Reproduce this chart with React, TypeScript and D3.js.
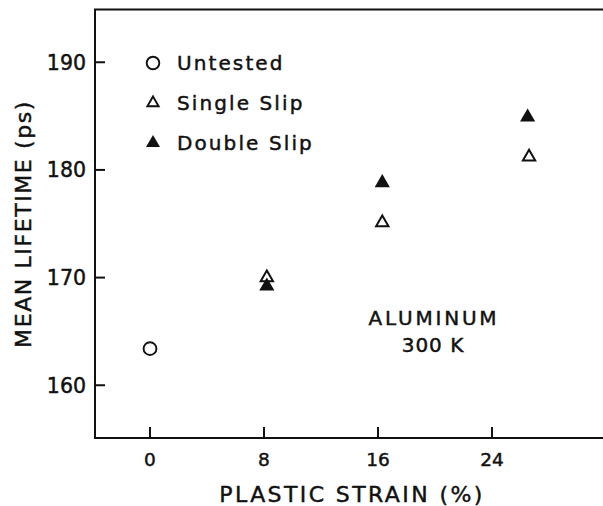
import React from 'react';
import * as d3 from 'd3';

const xTickValues = [0, 8, 16, 24];
const yTickValues = [160, 170, 180, 190];
const untestedStrain = [0];
const untestedLifetime = [163.4];
const singleStrain = [8.2, 16.3, 26.6];
const singleLifetime = [170.0, 175.1, 181.2];
const doubleStrain = [8.2, 16.3, 26.5];
const doubleLifetime = [169.2, 178.8, 184.9];
const legendLabels = ['Untested', 'Single Slip', 'Double Slip'];
const xLabel = 'PLASTIC STRAIN (%)';
const yLabel = 'MEAN LIFETIME (ps)';
const noteLines = ['ALUMINUM', '300 K'];

const FONT = '"DejaVu Sans", sans-serif';
const INK = '#111';

export default function App() {
  const W = 603;
  const H = 506;
  const x = d3.scaleLinear().domain([-3.86, 34]).range([95, 634.5]);
  const y = d3.scaleLinear().domain([155.1, 194.9]).range([438, 9.5]);
  const [x0, x1] = x.range();
  const [yb, yt] = y.range();

  const triFilled = d3.symbol().type(d3.symbolTriangle).size(100)()!;
  const triOpen = d3.symbol().type(d3.symbolTriangle).size(66)()!;
  const triFilledLeg = d3.symbol().type(d3.symbolTriangle).size(85)()!;
  const triOpenLeg = d3.symbol().type(d3.symbolTriangle).size(55)()!;

  const legendY = [63, 103, 143];
  const textStroke = { stroke: INK, strokeWidth: 0.45 };

  return (
    <svg
      width={W}
      height={H}
      style={{ position: 'absolute', left: 0, top: 0, background: '#fff' }}
      fontFamily={FONT}
    >
      <rect x={0} y={0} width={W} height={H} fill="#fff" />
      {/* frame */}
      <path
        d={`M${x1},${yt} H${x0} V${yb} H${x1}`}
        fill="none"
        stroke={INK}
        strokeWidth={2}
      />
      {/* y ticks */}
      {yTickValues.map((v) => (
        <g key={'yt' + v}>
          <line x1={x0} x2={x0 + 10} y1={y(v)} y2={y(v)} stroke={INK} strokeWidth={2} />
          <text x={86} y={y(v) + 7.5} textAnchor="end" fontSize={20.5} fill={INK} {...textStroke}>
            {v}
          </text>
        </g>
      ))}
      {/* x ticks */}
      {xTickValues.map((v) => (
        <g key={'xt' + v}>
          <line x1={x(v)} x2={x(v)} y1={yb} y2={yb - 11} stroke={INK} strokeWidth={2} />
          <text x={x(v)} y={466} textAnchor="middle" fontSize={18.5} fill={INK} {...textStroke}>
            {v}
          </text>
        </g>
      ))}
      {/* axis labels */}
      <text x={352} y={502} textAnchor="middle" fontSize={22} letterSpacing={2.4} fill={INK} {...textStroke}>
        {xLabel}
      </text>
      <text
        transform={`translate(31,224) rotate(-90)`}
        textAnchor="middle"
        fontSize={22}
        letterSpacing={1.6}
        fill={INK}
        {...textStroke}
      >
        {yLabel}
      </text>
      {/* data: untested */}
      {untestedStrain.map((s, i) => (
        <circle
          key={'u' + i}
          cx={x(s)}
          cy={y(untestedLifetime[i])}
          r={6.4}
          fill="#fff"
          stroke={INK}
          strokeWidth={1.9}
        />
      ))}
      {/* single slip (open) */}
      {singleStrain.map((s, i) => (
        <path
          key={'s' + i}
          d={triOpen}
          transform={`translate(${x(s)},${y(singleLifetime[i])})`}
          fill="#fff"
          stroke={INK}
          strokeWidth={2}
        />
      ))}
      {/* double slip (filled) */}
      {doubleStrain.map((s, i) => (
        <path
          key={'d' + i}
          d={triFilled}
          transform={`translate(${x(s)},${y(doubleLifetime[i])})`}
          fill={INK}
        />
      ))}
      {/* legend */}
      <circle cx={153} cy={legendY[0]} r={6.3} fill="#fff" stroke={INK} strokeWidth={1.9} />
      <path d={triOpenLeg} transform={`translate(153,${legendY[1]})`} fill="#fff" stroke={INK} strokeWidth={1.9} />
      <path d={triFilledLeg} transform={`translate(153,${legendY[2]})`} fill={INK} />
      {legendLabels.map((t, i) => (
        <text key={t} x={177} y={legendY[i] + 7} fontSize={20} letterSpacing={2.1} fill={INK} {...textStroke}>
          {t}
        </text>
      ))}
      {/* annotation */}
      <text x={434} y={325} textAnchor="middle" fontSize={20} letterSpacing={2.8} fill={INK} {...textStroke}>
        {noteLines[0]}
      </text>
      <text x={433} y={351.5} textAnchor="middle" fontSize={20} letterSpacing={1} fill={INK} {...textStroke}>
        {noteLines[1]}
      </text>
    </svg>
  );
}
